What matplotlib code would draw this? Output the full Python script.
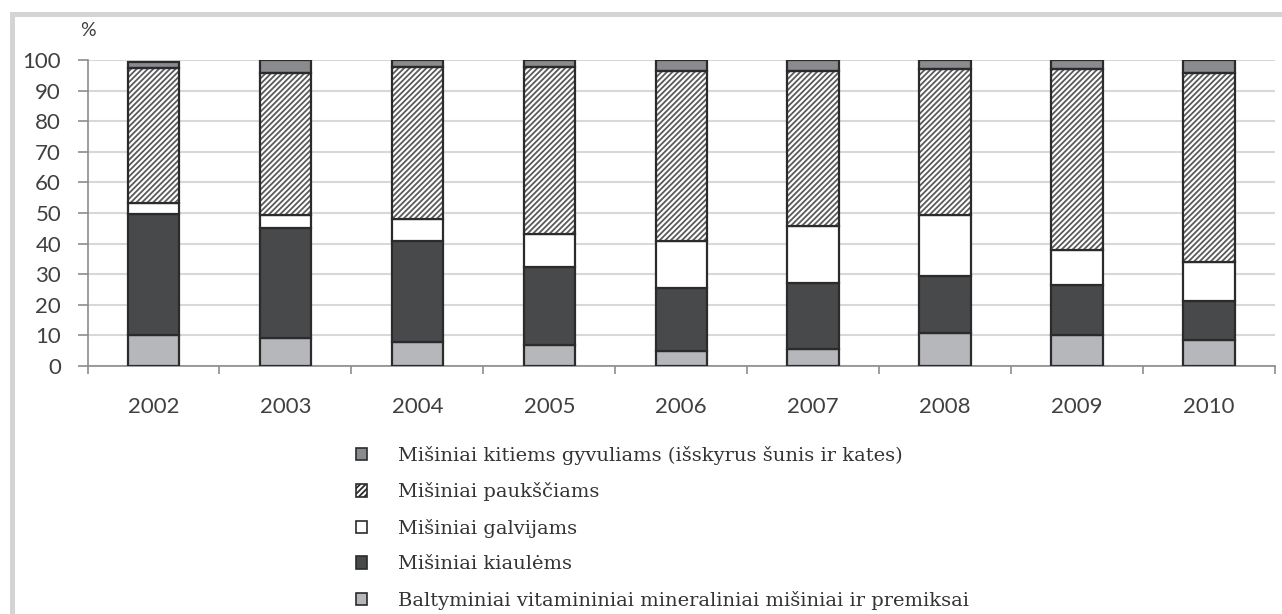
import matplotlib

matplotlib.use("Agg")
import matplotlib.pyplot as plt
import numpy as np
from matplotlib.patches import Patch, Rectangle

# duomenys, % (nuskaityta nuo paveikslo)
metai = ["2002", "2003", "2004", "2005", "2006", "2007", "2008", "2009", "2010"]
bvm = [10.0, 9.3, 7.9, 7.0, 4.9, 5.7, 10.8, 10.0, 8.4]
kiaulems = [39.6, 35.8, 33.0, 25.2, 20.7, 21.4, 18.5, 16.4, 12.8]
galvijams = [3.7, 4.2, 7.3, 10.8, 15.3, 18.7, 20.2, 11.5, 12.8]
pauksciams = [44.0, 46.3, 49.6, 54.8, 55.5, 50.6, 47.6, 59.2, 61.6]
kitiems = [2.0, 4.4, 2.2, 2.2, 3.6, 3.6, 2.9, 2.9, 4.4]

pavadinimai = [
    "Baltyminiai vitamininiai mineraliniai mišiniai ir premiksai",
    "Mišiniai kiaulėms",
    "Mišiniai galvijams",
    "Mišiniai paukščiams",
    "Mišiniai kitiems gyvuliams (išskyrus šunis ir kates)",
]

plt.rcParams["hatch.linewidth"] = 1.3

W, H = 1282, 614
fig = plt.figure(figsize=(W / 100, H / 100), dpi=100)

# pilkas remelis aplink
fig.patches.append(Rectangle((10 / W, 0), 5 / W, 1 - 12 / H, transform=fig.transFigure,
                             color="#d4d4d4", lw=0))
fig.patches.append(Rectangle((10 / W, 1 - 17 / H), 1, 5 / H, transform=fig.transFigure,
                             color="#d4d4d4", lw=0))

ax = fig.add_axes([87.5 / W, 1 - 366 / H, (1275 - 87.5) / W, (366 - 60) / H])

x = np.arange(len(metai))
plotis = 0.39
krastas = "#2b2b2b"
serijos = [bvm, kiaulems, galvijams, pauksciams, kitiems]
spalvos = ["#b6b7bb", "#48494b", "#ffffff", "#ffffff", "#8a8b8e"]

apacia = np.zeros(len(metai))
for i, (vals, sp) in enumerate(zip(serijos, spalvos)):
    vals = np.array(vals)
    if i == 3:
        ax.bar(x, vals, plotis, bottom=apacia, color="white", edgecolor="#5a5a5a",
               hatch="//////", linewidth=0, zorder=3)
        ax.bar(x, vals, plotis, bottom=apacia, fill=False, edgecolor=krastas,
               linewidth=1.6, zorder=4)
    else:
        ax.bar(x, vals, plotis, bottom=apacia, color=sp, edgecolor=krastas,
               linewidth=1.6, zorder=3)
    apacia += vals

ax.set_xlim(-0.5, len(metai) - 0.5)
ax.set_ylim(0, 100)
ax.set_yticks(np.arange(0, 101, 10))
ax.yaxis.grid(True, color="#d8d8d8", linewidth=1.5, zorder=0)
ax.set_axisbelow(True)

for s in ["top", "right"]:
    ax.spines[s].set_visible(False)
for s in ["left", "bottom"]:
    ax.spines[s].set_color("#8c8c8c")
    ax.spines[s].set_linewidth(1.2)

ax.set_xticks(x)
ax.set_xticklabels(metai)
ax.set_xticks(np.arange(-0.5, len(metai), 1), minor=True)
ax.tick_params(axis="x", which="major", length=0, pad=22, labelsize=16, labelcolor="#404040")
ax.tick_params(axis="x", which="minor", length=6, color="#8c8c8c", width=1.2)
ax.tick_params(axis="y", length=7, color="#8c8c8c", width=1.2, pad=12,
               labelsize=16, labelcolor="#404040")
for lab in ax.get_xticklabels() + ax.get_yticklabels():
    lab.set_family("Lato")

fig.text(88 / W, 1 - 30 / H, "%", ha="center", va="center", fontsize=14,
         family="Lato", color="#404040")

# legenda (atvirkstine tvarka)
rankenos = []
for i in reversed(range(len(serijos))):
    if i == 3:
        rankenos.append(Patch(facecolor="white", edgecolor=krastas, hatch="//////", lw=1.2))
    else:
        rankenos.append(Patch(facecolor=spalvos[i], edgecolor=krastas, lw=1.2))

fig.legend(rankenos, list(reversed(pavadinimai)), loc="upper left",
           bbox_to_anchor=(346 / W, 1 - 436 / H), frameon=False, borderpad=0,
           handlelength=0.6, handleheight=0.6, handletextpad=1.6, labelspacing=0.9,
           prop={"family": "DejaVu Serif", "size": 14}, labelcolor="#333333")

fig.savefig("out.png", dpi=100)
